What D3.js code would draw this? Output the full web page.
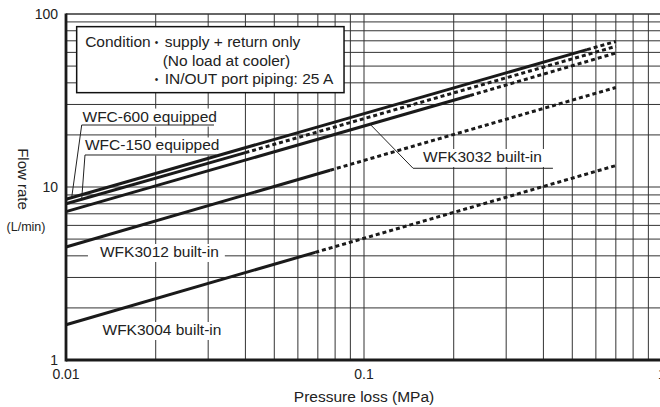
<!DOCTYPE html>
<html>
<head>
<meta charset="utf-8">
<script src="https://cdn.jsdelivr.net/npm/d3@7"></script>
<style>
  html, body { margin: 0; padding: 0; background: #fff; }
  svg { display: block; font-family: "Liberation Sans", Arial, sans-serif; }
</style>
</head>
<body>
<div id="graph"></div>
<script>
const width = 660, height = 407;

// flow rate (L/min) vs pressure loss (MPa)
const seriesNames = ["WFC-600 equipped", "WFC-150 equipped", "WFK3032 built-in", "WFK3012 built-in", "WFK3004 built-in"];
const startP = 0.01;
const startFlow = [8.5, 8.0, 7.2, 4.5, 1.6];
// solid part ends here, dotted part goes on
const breakP = [0.56, 0.04, 0.227, 0.077, 0.0686];
const breakFlow = [62.2, 15.8, 33.8, 12.5, 4.19];
const endP = 0.7;
const endFlow = [69.4, 65, 59.5, 37.6, 13.3];

const xTickLabels = [0.01, 0.1, 1];
const yTickLabels = [1, 10, 100];

const conditionLines = [
  {bullet: false, lead: "Condition", text: "supply + return only"},
  {bullet: false, lead: "", text: "(No load at cooler)"},
  {bullet: true, lead: "", text: "IN/OUT port piping: 25 A"}
];

// label positions in data units (pressure, flow)
const labels = [
  {text: "WFC-600 equipped", p: 0.01136, q: 23.9, padL: 2, padR: 2,
   leader: [[0.03138, 22.82], [0.01129, 22.82], [0.01045, 8.69]]},
  {text: "WFC-150 equipped", p: 0.01158, q: 16.26, padL: 1, padR: 2,
   leader: [[0.03204, 15.31], [0.01158, 15.31], [0.01129, 8.5]]},
  {text: "WFK3032 built-in", p: 0.1578, q: 13.95, padL: 4, padR: 4,
   leader: [[0.4305, 12.83], [0.1461, 12.83], [0.1047, 23.1]]},
  {text: "WFK3012 built-in", p: 0.0130, q: 3.94, padL: 12, padR: 6, leader: null},
  {text: "WFK3004 built-in", p: 0.01326, q: 1.395, padL: 3, padR: 3, leader: null}
];

const x = d3.scaleLog().domain([0.01, 1]).range([66, 662]);
const y = d3.scaleLog().domain([1, 100]).range([360, 14]);

const svg = d3.select("#graph")
  .append("svg")
  .attr("width", width)
  .attr("height", height);

svg.append("rect").attr("width", width).attr("height", height).attr("fill", "#fff");

// grid
const grid = svg.append("g").attr("stroke", "#333").attr("stroke-width", 1);
grid.selectAll("line.v")
  .data(x.ticks())
  .join("line")
  .attr("class", "v")
  .attr("x1", d => x(d)).attr("x2", d => x(d))
  .attr("y1", y(100)).attr("y2", y(1));
grid.selectAll("line.h")
  .data(y.ticks())
  .join("line")
  .attr("class", "h")
  .attr("x1", x(0.01)).attr("x2", x(1))
  .attr("y1", d => y(d)).attr("y2", d => y(d))
  .attr("stroke-width", d => d === 100 ? 1.5 : 1);

// condition box
const cond = svg.append("g").style("font-size", "15.5px").attr("fill", "#222");
cond.append("rect")
  .attr("x", x(0.01086)).attr("y", y(84.5))
  .attr("width", x(0.0857) - x(0.01086))
  .attr("height", y(35.1) - y(84.5))
  .attr("fill", "#fff").attr("stroke", "#111").attr("stroke-width", 1.5);
const lineGap = 18.5;
conditionLines.forEach((l, i) => {
  const by = y(84.5) + 20.5 + i * lineGap;
  if (l.lead) cond.append("text").attr("x", x(0.01086) + 8.5).attr("y", by).text(l.lead);
  if (l.lead || l.bullet)
    cond.append("text").attr("x", x(0.01086) + 78).attr("y", by - 1).style("font-size", "10px").text("•");
  cond.append("text").attr("x", x(0.01086) + (i === 1 ? 86 : 88)).attr("y", by).text(l.text);
});

// label backgrounds + text
const lab = svg.append("g").style("font-size", "15.5px").attr("fill", "#222");
labels.forEach(l => {
  const g = lab.append("g");
  const t = g.append("text").attr("x", x(l.p)).attr("y", y(l.q)).text(l.text);
  const bb = t.node().getBBox();
  g.insert("rect", "text")
    .attr("x", bb.x - l.padL).attr("y", bb.y + 1)
    .attr("width", bb.width + l.padL + l.padR).attr("height", bb.height + 1)
    .attr("fill", "#fff");
});

// series lines
const line = d3.line().x(d => x(d[0])).y(d => y(d[1]));
const series = svg.append("g").attr("fill", "none").attr("stroke", "#1a1a1a").attr("stroke-width", 3);
seriesNames.forEach((name, i) => {
  series.append("path")
    .attr("d", line([[startP, startFlow[i]], [breakP[i], breakFlow[i]]]));
  series.append("path")
    .attr("d", line([[breakP[i], breakFlow[i]], [endP, endFlow[i]]]))
    .attr("stroke-dasharray", "4,3");
});

// leaders
svg.append("g").attr("fill", "none").attr("stroke", "#222").attr("stroke-width", 1)
  .selectAll("path")
  .data(labels.filter(l => l.leader))
  .join("path")
  .attr("d", l => line(l.leader));

// axes
svg.append("line").attr("x1", x(0.01)).attr("x2", x(0.01)).attr("y1", y(100) - 0.5).attr("y2", y(1) + 1.5)
  .attr("stroke", "#1a1a1a").attr("stroke-width", 2.8);
svg.append("line").attr("x1", x(0.01)).attr("x2", x(1)).attr("y1", y(1)).attr("y2", y(1))
  .attr("stroke", "#1a1a1a").attr("stroke-width", 2.8);

const ticks = svg.append("g").style("font-size", "14px").attr("fill", "#222");
ticks.selectAll("text.y")
  .data(yTickLabels)
  .join("text")
  .attr("class", "y")
  .attr("x", x(0.01) - 8).attr("y", d => y(d) + 5)
  .attr("text-anchor", "end")
  .text(d => d);
ticks.selectAll("text.x")
  .data(xTickLabels)
  .join("text")
  .attr("class", "x")
  .attr("x", d => x(d)).attr("y", y(1) + 19)
  .attr("text-anchor", "middle")
  .text(d => d);

svg.append("text")
  .attr("x", 364).attr("y", 402)
  .attr("text-anchor", "middle")
  .style("font-size", "15.5px").attr("fill", "#222")
  .text("Pressure loss (MPa)");

svg.append("text")
  .attr("transform", "translate(18,179) rotate(90)")
  .attr("text-anchor", "middle")
  .style("font-size", "15px").attr("fill", "#222")
  .text("Flow rate");
svg.append("text")
  .attr("x", 26).attr("y", 231)
  .attr("text-anchor", "middle")
  .style("font-size", "12.5px").attr("fill", "#222")
  .text("(L/min)");
</script>
</body>
</html>
